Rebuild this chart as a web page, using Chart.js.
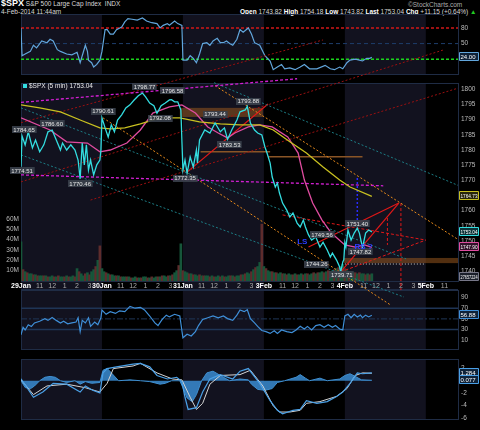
<!DOCTYPE html>
<html>
<head>
<meta charset="utf-8">
<script src="https://cdn.jsdelivr.net/npm/chart.js@4.4.1/dist/chart.umd.min.js"></script>
<style>
  body { margin: 0; background: #000; }
  #wrap { position: relative; width: 480px; height: 430px; overflow: hidden; font-family: "Liberation Sans", Arial, sans-serif; color: #d8d8d8; }
  #wrap canvas { position: absolute; left: 0; top: 0; }
  .t { position: absolute; white-space: nowrap; font-size: 6.5px; line-height: 7px; }
  .t b { color: #fff; }
</style>
</head>
<body>
<div id="wrap">
  <div class="t" style="left:1px;top:0px;"><b style="font-size:9px">$SPX</b> S&amp;P 500 Large Cap Index&nbsp; INDX</div>
  <div class="t" style="left:1px;top:8px;">4-Feb-2014 11:44am</div>
  <div class="t" style="left:408px;top:1px;color:#aaa;">©StockCharts.com</div>
  <div class="t" style="left:240px;top:8px;"><b>Open</b> 1743.82 <b>High</b> 1754.18 <b>Low</b> 1743.82 <b>Last</b> 1753.04 <b>Chg</b> +11.15 (+0.64%) <span style="color:#2c2">▲</span></div>
  <canvas id="cTop" width="480" height="430"></canvas>
  <canvas id="cRsi" width="480" height="430"></canvas>
  <canvas id="cMacd" width="480" height="430"></canvas>
  <canvas id="cPrice" width="480" height="430"></canvas>
</div>
<script>
// x axis is in 5-minute bars, 78 bars per session
const dayStarts = [0, 78, 156, 234, 312, 390];
const dayLabels = ['29Jan', '30Jan', '31Jan', '3Feb', '4Feb', '5Feb'];
const hourOffsets = [18, 30, 42, 54, 66];
const hourLabels = ['11', '12', '1', '2', '3'];

const priceTicks = [1740, 1745, 1750, 1755, 1760, 1765, 1770, 1775, 1780, 1785, 1790, 1795, 1800];
const volTicks = [10, 20, 30, 40, 50, 60];
const topTicks = [20, 50, 80];
const rsiTicks = [10, 30, 50, 70, 90];
const macdTicks = [2, 0, -2, -4, -6];

// $SPX 5 min [bar, price]
const spx = [[0,1774.5],[1,1784.6],[4,1781.7],[7,1786.0],[11,1780.7],[14,1783.3],[18,1779.4],[22,1781.7],[26,1786.0],[30,1786.6],
  [34,1783.3],[38,1780.0],[40,1782.3],[44,1780.0],[48,1781.7],[52,1780.0],[55,1776.7],[57,1770.5],[59,1782.3],[61,1775.1],
  [63,1781.7],[65,1773.4],[67,1776.7],[70,1771.8],[73,1775.1],[76,1776.7],[77,1780.0],[78,1790.6],[81,1787.3],[84,1784.3],
  [87,1788.3],[90,1786.0],[93,1789.9],[97,1791.6],[101,1793.9],[105,1794.9],[109,1796.5],[113,1797.9],[117,1798.8],[120,1797.5],
  [124,1795.5],[128,1794.6],[131,1792.1],[135,1794.6],[139,1795.5],[143,1796.5],[145,1796.6],[148,1795.9],[151,1795.9],[154,1793.2],
  [156,1773.4],[158,1776.7],[160,1772.4],[163,1777.7],[166,1774.4],[169,1780.0],[170,1775.7],[172,1783.3],[177,1786.6],[182,1785.6],
  [187,1788.9],[192,1786.0],[196,1787.3],[199,1783.5],[203,1786.6],[208,1789.9],[211,1792.6],[216,1793.2],[218,1794.4],[221,1788.9],
  [225,1786.6],[228,1785.6],[232,1785.0],[235,1781.0],[237,1779.0],[240,1775.7],[242,1771.1],[245,1767.8],[247,1769.1],[249,1765.8],
  [252,1762.5],[256,1760.2],[259,1757.9],[262,1759.2],[266,1755.9],[269,1754.6],[272,1756.9],[274,1754.6],[277,1752.0],[280,1750.3],
  [284,1751.3],[288,1748.0],[291,1749.6],[295,1747.0],[298,1744.7],[300,1746.0],[304,1743.7],[307,1741.4],[308,1739.7],[310,1743.1],
  [311,1743.8],[312,1749.5],[313,1748.0],[315,1753.6],[318,1750.3],[321,1752.6],[324,1754.2],[326,1752.6],[329,1747.8],[332,1752.6],
  [335,1753.6],[338,1753.0]];

const smaLong = [[0,1794.9],[18,1793.9],[38,1792.6],[57,1789.9],[76,1787.3],[86,1787.0],[100,1787.3],[115,1788.6],[134,1790.6],[153,1790.6],
  [172,1789.3],[192,1788.6],[211,1788.3],[230,1788.3],[243,1786.6],[259,1782.7],[275,1779.0],[291,1774.4],[307,1770.1],[317,1767.8],[338,1764.73]];

const smaShort = [[0,1790.6],[28,1786.6],[44,1782.7],[64,1782.3],[76,1779.4],[86,1780.0],[102,1782.3],[115,1786.6],[127,1792.2],[143,1794.2],
  [155,1794.9],[168,1792.2],[180,1787.6],[190,1785.6],[199,1784.0],[206,1785.6],[219,1787.6],[230,1788.3],[242,1787.6],[257,1784.3],
  [267,1779.0],[273,1770.1],[281,1762.5],[290,1756.9],[299,1752.6],[312,1748.7],[322,1748.0],[331,1748.7],[338,1747.9]];

// volume in millions, one value per 2 bars
const vol29Jan = [38,11,9,8,7,7,6,6,5,5,5,5,5,4,4,5,4,4,5,4,4,4,5,4,4,5,4,12,9,7,5,7,8,6,9,11,14,20,34];
const vol30Jan = [12,9,8,7,6,6,5,5,5,4,4,4,4,4,3,3,4,3,3,3,4,4,3,3,4,3,4,4,4,5,5,4,5,5,6,8,10,15,36];
const vol31Jan = [10,9,8,7,7,6,6,5,6,5,5,5,5,4,5,4,4,5,4,5,4,4,5,5,5,4,5,5,6,6,7,8,7,9,11,13,14,18,55];
const vol3Feb = [14,12,10,9,9,8,8,7,8,7,7,6,7,6,6,7,6,6,7,6,7,7,6,7,8,7,8,8,9,8,9,10,9,10,11,12,13,14,16];
const vol4Feb = [12,10,9,9,8,8,7,8,7,7,6,7,6,7];

// upper indicator panel
const topOsc = [[0,80],[1,26.7],[4,30],[9,35],[12,46.7],[15,41.7],[20,55],[25,51.7],[28,58.3],[31,55],[35,38.3],[38,35],[44,30],
  [49,28.3],[54,33.3],[57,13.3],[60,33.3],[62,46.7],[64,35],[65,18.3],[68,13.3],[70,5],[73,10],[76,18.3],[78,35],[81,76.7],
  [83,76.7],[86,68.3],[89,68.3],[92,76.7],[97,81.7],[100,91.7],[103,98],[107,96.7],[112,95],[117,99],[121,93.3],[126,90],
  [131,88.3],[134,80],[137,85],[141,88.3],[143,85],[148,93.3],[151,88.3],[155,85],[156,18.3],[160,18.3],[163,26.7],[166,21.7],
  [169,13.3],[172,30],[175,50],[179,51.7],[182,46.7],[185,55],[189,60],[192,51.7],[195,51.7],[198,55],[201,50],[204,46.7],
  [208,58.3],[211,76.7],[214,71.7],[219,80],[222,68.3],[225,51.7],[230,46.7],[235,26.7],[240,16.7],[243,0],[247,5],[251,10],
  [254,1.7],[259,3.3],[264,0],[269,5],[273,10],[278,1.7],[285,1.7],[293,8.3],[298,1.7],[302,0],[307,5],[310,1.7],[314,13.3],
  [317,18.3],[322,20],[326,18.3],[329,16.7],[333,21.7],[336,21.7],[338,24]];

const rsi = [[0,20.1],[2,34.2],[4,29.3],[7,39.1],[10,35.9],[13,42.4],[18,45.6],[23,50.5],[26,47.2],[30,52.6],[34,47.2],[38,42.4],
  [41,45.6],[45,40.7],[49,42.4],[53,44.0],[55,52.1],[57,26.1],[59,47.2],[62,42.4],[65,52.1],[67,35.9],[71,44.0],[74,39.1],
  [77,52.1],[78,66.7],[82,58.6],[86,63.5],[91,60.2],[95,65.1],[100,63.5],[105,73.3],[110,70.0],[115,71.6],[119,66.7],[124,55.4],
  [129,42.4],[132,37.5],[136,48.9],[140,57.0],[143,53.7],[148,58.6],[153,55.4],[156,14.7],[160,21.2],[164,18.0],[168,26.1],
  [171,37.5],[175,48.9],[180,52.1],[185,55.4],[190,52.1],[195,55.4],[199,50.5],[204,47.2],[208,57.0],[211,66.7],[215,63.5],
  [218,67.2],[221,50.5],[225,42.4],[228,35.9],[232,28.2],[236,26.1],[240,22.8],[244,27.7],[247,22.8],[251,29.3],[256,26.1],
  [261,24.5],[265,29.3],[269,36.3],[273,31.0],[276,35.9],[280,29.3],[284,37.5],[288,39.1],[292,34.2],[296,39.1],[300,34.2],
  [303,37.5],[307,31.0],[310,29.3],[312,55.4],[315,58.6],[318,52.1],[321,58.6],[324,53.7],[327,57.0],[329,52.1],[332,57.0],
  [335,53.7],[338,56.88]];

const macd = [[0,0.32],[12,-2.68],[21,-1.83],[31,-0.42],[44,-0.56],[57,-1.83],[62,-0.85],[69,-1.55],[76,-1.97],[79,1.27],[83,1.97],
  [92,2.25],[108,2.68],[115,2.82],[124,2.25],[131,0.85],[141,0.28],[150,0.56],[155,-0.14],[158,-2.68],[161,-4.65],[169,-4.37],
  [175,-1.83],[182,0.28],[192,0.99],[204,0.28],[211,1.55],[219,1.97],[230,-0.42],[240,-3.24],[247,-4.79],[252,-5.35],[262,-4.79],
  [269,-4.65],[275,-3.24],[285,-3.66],[295,-3.38],[304,-2.54],[310,-1.83],[317,-0.42],[324,1.27],[329,1.13],[338,1.284]];

const signal = [[0,0.14],[12,-2.25],[25,-0.85],[44,-0.56],[62,-1.13],[76,-1.83],[83,-0.42],[89,1.97],[108,2.39],[115,2.82],[131,1.27],
  [146,0.28],[155,0.14],[163,-2.68],[169,-4.65],[175,-3.66],[182,-0.56],[192,0.85],[211,0.99],[221,1.69],[233,-0.85],[243,-4.08],
  [249,-5.07],[259,-5.07],[269,-4.79],[275,-3.66],[288,-3.38],[304,-2.54],[314,-1.27],[322,0.85],[329,1.27],[338,1.207]];

const hist = [[0,0],[4,-1.1],[9,-1.3],[13,-0.85],[18,0],[23,0.56],[28,0.7],[33,0.56],[38,0],[44,-0.28],[52,0],[57,-0.56],[62,-0.14],
  [68,-0.42],[76,-0.28],[79,1.7],[83,2.0],[88,1.1],[94,0],[105,0.14],[115,0],[124,-0.14],[134,-0.56],[139,-0.42],[145,0],[153,0],
  [156,-1.13],[160,-2.8],[165,-3.4],[169,-2.25],[174,0],[179,1.27],[185,1.55],[192,0.85],[201,0],[211,0.28],[219,0.14],[222,-0.56],
  [228,-1.4],[235,-1.55],[242,-1.27],[247,-0.28],[254,0],[265,0.56],[269,0.99],[274,0.42],[278,0],[288,0.42],[295,0],[307,0.28],
  [312,0.85],[317,1.13],[322,0.7],[328,0.14],[338,0.077]];

// drawn annotations, [bar, price] end points
const trendMagenta = [[[0,1795.7],[266,1803.5]], [[0,1771.8],[349,1768.2]]];
const trendTeal = [[[186,1802.2],[422,1768.2]], [[0,1778.4],[369,1731.5]], [[0,1793.9],[371,1744.1]]];
const trendOrange = [[[187,1801.2],[422,1750.3]], [[79,1790.6],[356,1728.9]]];
const trendDarkRed = [[[0,1789.0],[291,1816.3]], [[0,1769.5],[407,1813.0]], [[67,1763.5],[422,1800.5]]];
const trendRed = [[[160,1772.7],[238,1795.2]], [[277,1748.0],[364,1762.5]], [[308,1739.8],[364,1762.5]]];
const trendRedDash = [[[252,1758.6],[390,1750.3]], [[308,1739.8],[390,1750.3]], [[353,1757.6],[353,1748.7]], [[366,1762.5],[366,1733.8]]];
const trendBlue = [[[324,1770.8],[324,1755.3]]];
const trendWhite = [[[312,1742.4],[390,1742.4]]];
const trendBrown = [[[173,1779.4],[240,1779.4]], [[238,1777.8],[329,1777.8]]];
const zones = [[153,233,1790.9,1793.9], [311,422,1742.7,1744.4]];

const priceNotes = [['1774.51',1,1773.1],['1784.65',3,1786.6],['1786.60',30,1788.6],['1770.46',57,1768.8],['1790.61',79,1792.6],
  ['1798.77',119,1800.8],['1796.58',146,1799.5],['1792.08',134,1790.3],['1793.44',187,1791.6],['1793.88',219,1795.9],
  ['1783.53',201,1781.7],['1772.35',158,1770.5],['1749.56',290,1752.0],['1744.26',285,1742.4],['1739.71',309,1738.8],
  ['1751.40',324,1755.6],['1747.82',327,1746.4]];
const patternNotes = [['LS',271,1749.7],['RS ?',330,1748.0]];

const X_MAX = 421;
const FONT = '"Liberation Sans", Arial, sans-serif';
const SHADE = '#12121f';
const LINEC = '#1f2c45';

Chart.defaults.font.family = FONT;

const pts = a => a.map(p => ({x: p[0], y: p[1]}));
const flat = v => [[0, v], [X_MAX, v]];

const xTickVals = [];
const xTickText = {};
dayStarts.forEach((d, i) => {
  xTickVals.push(d);
  xTickText[d] = dayLabels[i];
  hourOffsets.forEach((h, j) => {
    if (d + h < 415) { xTickVals.push(d + h); xTickText[d + h] = hourLabels[j]; }
  });
});

const isDay = c => !!(c && c.tick && dayStarts.includes(c.tick.value));

function xScale(show) {
  return {
    type: 'linear', min: 0, max: X_MAX, display: show, offset: false,
    grid: {display: false, drawTicks: false}, border: {display: false},
    afterBuildTicks: s => { s.ticks = xTickVals.map(v => ({value: v})); },
    afterFit: s => { s.height = 9; s.paddingLeft = 0; s.paddingRight = 0; },
    ticks: {
      autoSkip: false, maxRotation: 0, minRotation: 0, padding: 1,
      callback: v => xTickText[v],
      color: c => isDay(c) ? '#fff' : '#aaa',
      font: c => ({family: FONT, size: 7, weight: isDay(c) ? 'bold' : 'normal'})
    }
  };
}

function yScale(pos, min, max, ticks, fmt, width) {
  return {
    type: 'linear', position: pos, min: min, max: max,
    grid: {display: false, drawTicks: false}, border: {display: false},
    afterBuildTicks: s => { s.ticks = ticks.map(v => ({value: v})); },
    afterFit: s => { s.width = width; s.paddingTop = 0; s.paddingBottom = 0; },
    ticks: {autoSkip: false, color: '#bbb', padding: pos === 'right' ? 3 : 2, font: {size: 6.5}, callback: fmt}
  };
}

function line(data, color, width, extra) {
  return Object.assign({type: 'line', data: pts(data), borderColor: color, borderWidth: width,
    pointRadius: 0, fill: false, tension: 0, order: 1}, extra || {});
}

// day shading + panel frame + value boxes on the right
function panelPlugin(stripBottom, boxes) {
  return {
    id: 'panel',
    beforeDraw(chart) {
      const {ctx, chartArea: a, scales: {x}} = chart;
      ctx.save();
      dayStarts.forEach((d, i) => {
        if (i % 2) return;
        const x0 = Math.max(x.getPixelForValue(d), a.left);
        const x1 = Math.min(x.getPixelForValue(d + 78), a.right);
        if (x1 > x0) {
          ctx.fillStyle = SHADE;
          ctx.fillRect(x0, a.top, x1 - x0, a.bottom - a.top + stripBottom);
        }
      });
      ctx.strokeStyle = LINEC;
      ctx.lineWidth = 1;
      ctx.strokeRect(a.left + 0.5, a.top + 0.5, a.right - a.left, a.bottom - a.top);
      if (stripBottom) {
        ctx.beginPath();
        ctx.moveTo(a.left, a.bottom + stripBottom + 0.5);
        ctx.lineTo(a.right, a.bottom + stripBottom + 0.5);
        ctx.stroke();
      }
      ctx.restore();
    },
    afterDraw(chart) {
      const {ctx, chartArea: a, scales: {y}} = chart;
      ctx.save();
      ctx.font = '6px ' + FONT;
      ctx.textBaseline = 'middle';
      boxes.forEach(b => {
        const py = Math.round(y.getPixelForValue(b.v));
        const w = 480 - a.right - 3;
        ctx.fillStyle = b.fill;
        ctx.strokeStyle = b.stroke;
        ctx.beginPath();
        ctx.rect(a.right + 1.5, py - 4.5, w, 8);
        ctx.fill();
        ctx.stroke();
        ctx.fillStyle = '#fff';
        ctx.fillText(b.t, a.right + 2.5, py, w - 2);
      });
      ctx.restore();
    }
  };
}

const notesPlugin = {
  id: 'notes',
  beforeDatasetsDraw(chart) {
    const {ctx, scales: {x, y}} = chart;
    ctx.save();
    ctx.fillStyle = 'rgba(150, 85, 30, 0.55)';
    zones.forEach(z => {
      const x0 = x.getPixelForValue(z[0]);
      const x1 = Math.min(x.getPixelForValue(z[1]), chart.chartArea.right);
      const y0 = y.getPixelForValue(z[3]);
      const y1 = y.getPixelForValue(z[2]);
      ctx.fillRect(x0, y0, x1 - x0, y1 - y0);
    });
    ctx.restore();
  },
  afterDatasetsDraw(chart) {
    const {ctx, chartArea: a, scales: {x, y}} = chart;
    ctx.save();
    ctx.font = '6px ' + FONT;
    ctx.textBaseline = 'middle';
    ctx.textAlign = 'center';
    priceNotes.forEach(n => {
      const px = x.getPixelForValue(n[1]);
      const py = y.getPixelForValue(n[2]);
      const w = ctx.measureText(n[0]).width + 3;
      ctx.fillStyle = 'rgba(56, 63, 74, 0.92)';
      ctx.fillRect(Math.round(px - w / 2), Math.round(py - 3.5), w, 7);
      ctx.fillStyle = '#e4e4e4';
      ctx.fillText(n[0], px, py);
    });
    ctx.font = 'bold 8px ' + FONT;
    ctx.fillStyle = '#2b3cff';
    patternNotes.forEach(n => ctx.fillText(n[0], x.getPixelForValue(n[1]), y.getPixelForValue(n[2])));
    // legend
    ctx.textAlign = 'left';
    ctx.fillStyle = '#33dde0';
    ctx.fillRect(a.left + 2, a.top + 1, 4, 4);
    ctx.font = '6.5px ' + FONT;
    ctx.fillStyle = '#e8e8e8';
    ctx.fillText('$SPX (5 min) 1753.04', a.left + 8, a.top + 3.5);
    ctx.restore();
  }
};

const common = {
  responsive: false, animation: false, devicePixelRatio: 1, events: [],
  plugins: {legend: {display: false}, tooltip: {enabled: false}}
};

// upper oscillator panel
new Chart(document.getElementById('cTop'), {
  type: 'line',
  data: {datasets: [
    line(flat(80), '#d01818', 1.5, {borderDash: [3, 2], order: 3}),
    line(flat(50), '#1e3d6b', 1, {borderDash: [4, 3], order: 3}),
    line(flat(20), '#1bd31b', 1.5, {borderDash: [3, 2], order: 3}),
    line(topOsc, '#62a6dc', 1.2, {order: 0})
  ]},
  options: Object.assign({}, common, {
    layout: {padding: {left: 21, right: 0, top: 14, bottom: 347}},
    scales: {x: xScale(false), y: yScale('right', -8.3, 106.7, topTicks, v => String(v), 22)}
  }),
  plugins: [panelPlugin(0, [{v: 24, t: '24.00', fill: '#0f2238', stroke: '#62a6dc'}])]
});

// RSI panel
new Chart(document.getElementById('cRsi'), {
  type: 'line',
  data: {datasets: [
    line(flat(70), '#1f3556', 1.5, {order: 3}),
    line(flat(30), '#1f3556', 1.5, {order: 3}),
    line(flat(50), '#1f3556', 1, {borderDash: [6, 2, 2, 2], order: 3}),
    line(rsi, '#3f8fd8', 1.2, {order: 0})
  ]},
  options: Object.assign({}, common, {
    layout: {padding: {left: 21, right: 0, top: 290, bottom: 72}},
    scales: {x: xScale(false), y: yScale('right', -6.4, 104.1, rsiTicks, v => String(v), 22)}
  }),
  plugins: [panelPlugin(0, [{v: 56.88, t: '56.88', fill: '#0f2238', stroke: '#3f8fd8'}])]
});

// MACD panel
new Chart(document.getElementById('cMacd'), {
  type: 'line',
  data: {datasets: [
    line(hist, '#3f8fd0', 1, {fill: 'origin', backgroundColor: 'rgba(58, 140, 210, 0.85)', order: 3}),
    line(signal, '#d4d4d4', 1, {order: 1}),
    line(macd, '#4aa0e6', 1.2, {order: 0})
  ]},
  options: Object.assign({}, common, {
    layout: {padding: {left: 21, right: 0, top: 359, bottom: 2}},
    scales: {x: xScale(false), y: yScale('right', -6.2, 3.52, macdTicks, v => String(v), 22)}
  }),
  plugins: [panelPlugin(0, [
    {v: 1.284, t: '1.284', fill: '#0f2238', stroke: '#4aa0e6'},
    {v: 0.077, t: '0.077', fill: '#0f2238', stroke: '#4aa0e6'}
  ])]
});

// price panel with volume overlay
const volAll = vol29Jan.concat(vol30Jan, vol31Jan, vol3Feb, vol4Feb);
const volData = volAll.map((v, i) => ({x: i * 2, y: v}));
const volColors = volAll.map((v, i) => (i % 5 === 1 || i % 5 === 3) ? '#5e2c2c' : '#16563a');

const trendClip = {left: 0, right: 0, top: 69, bottom: 150};
const trendSets = [];
[[trendMagenta, '#d21fd2', [3, 2], 1.3], [trendTeal, '#1c7c84', [2, 2], 1], [trendOrange, '#e88a1a', [2, 2], 1],
 [trendDarkRed, '#9b1010', [2, 2], 1], [trendRed, '#e01818', [], 1.2], [trendRedDash, '#e01818', [3, 2], 1],
 [trendBlue, '#2a2cff', [2, 2], 1.5], [trendWhite, '#cfcfcf', [1, 2], 1], [trendBrown, '#8a5526', [], 1.5]
].forEach(g => {
  g[0].forEach(seg => trendSets.push(line(seg, g[1], g[3], {borderDash: g[2], clip: trendClip, order: 2})));
});

new Chart(document.getElementById('cPrice'), {
  type: 'line',
  data: {datasets: [
    {type: 'bar', data: volData, xAxisID: 'x', yAxisID: 'vol', backgroundColor: volColors, barThickness: 2, grouped: false, order: 5},
    ...trendSets,
    line(smaLong, '#c8c020', 1.3, {order: 1}),
    line(smaShort, '#e04ca0', 1.3, {order: 1}),
    line(spx, '#33dde0', 1.3, {order: 0})
  ]},
  options: Object.assign({}, common, {
    layout: {padding: {left: 0, right: 0, top: 83, bottom: 140}},
    scales: {
      x: xScale(true),
      y: yScale('right', 1736.8, 1802.1, priceTicks, v => String(v), 22),
      vol: yScale('left', 0, 191.6, volTicks, v => v + 'M', 21)
    }
  }),
  plugins: [panelPlugin(8, [
    {v: 1764.73, t: '1764.73', fill: '#27250a', stroke: '#c8c020'},
    {v: 1753.04, t: '1753.04', fill: '#0c3338', stroke: '#33dde0'},
    {v: 1747.9, t: '1747.90', fill: '#33122a', stroke: '#e04ca0'},
    {v: 1738.1, t: '27657224', fill: '#1a1f2a', stroke: '#778'}
  ]), notesPlugin]
});
</script>
</body>
</html>
